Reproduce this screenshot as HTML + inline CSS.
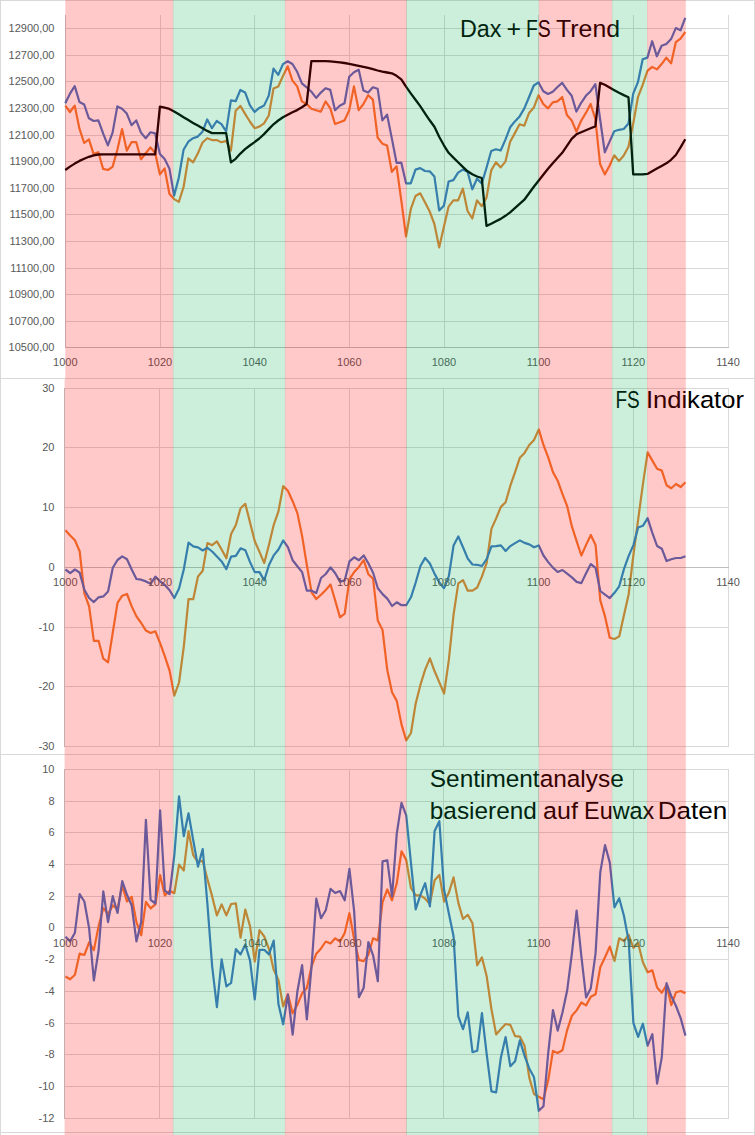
<!DOCTYPE html><html><head><meta charset="utf-8"><style>html,body{margin:0;padding:0;background:#fff;overflow:hidden}svg{display:block}text{font-family:"Liberation Sans",sans-serif}</style></head><body>
<svg width="755" height="1135" viewBox="0 0 755 1135">
<rect x="0" y="0" width="755" height="1135" fill="#fff"/>
<rect x="65" y="28" width="664" height="1" fill="#d9d9d9"/>
<rect x="65" y="55" width="664" height="1" fill="#d9d9d9"/>
<rect x="65" y="81" width="664" height="1" fill="#d9d9d9"/>
<rect x="65" y="108" width="664" height="1" fill="#d9d9d9"/>
<rect x="65" y="135" width="664" height="1" fill="#d9d9d9"/>
<rect x="65" y="161" width="664" height="1" fill="#d9d9d9"/>
<rect x="65" y="188" width="664" height="1" fill="#d9d9d9"/>
<rect x="65" y="214" width="664" height="1" fill="#d9d9d9"/>
<rect x="65" y="241" width="664" height="1" fill="#d9d9d9"/>
<rect x="65" y="268" width="664" height="1" fill="#d9d9d9"/>
<rect x="65" y="294" width="664" height="1" fill="#d9d9d9"/>
<rect x="65" y="321" width="664" height="1" fill="#d9d9d9"/>
<rect x="160" y="15" width="1" height="332" fill="#d9d9d9"/>
<rect x="254" y="15" width="1" height="332" fill="#d9d9d9"/>
<rect x="349" y="15" width="1" height="332" fill="#d9d9d9"/>
<rect x="444" y="15" width="1" height="332" fill="#d9d9d9"/>
<rect x="538" y="15" width="1" height="332" fill="#d9d9d9"/>
<rect x="633" y="15" width="1" height="332" fill="#d9d9d9"/>
<rect x="728" y="15" width="1" height="332" fill="#d9d9d9"/>
<rect x="65" y="15" width="1" height="333" fill="#bfbfbf"/>
<rect x="65" y="347" width="664" height="1" fill="#bfbfbf"/>
<text x="54.5" y="32.1" font-size="11" fill="#595959" text-anchor="end">12900,00</text>
<text x="54.5" y="59.1" font-size="11" fill="#595959" text-anchor="end">12700,00</text>
<text x="54.5" y="85.1" font-size="11" fill="#595959" text-anchor="end">12500,00</text>
<text x="54.5" y="112.1" font-size="11" fill="#595959" text-anchor="end">12300,00</text>
<text x="54.5" y="139.1" font-size="11" fill="#595959" text-anchor="end">12100,00</text>
<text x="54.5" y="165.1" font-size="11" fill="#595959" text-anchor="end">11900,00</text>
<text x="54.5" y="192.1" font-size="11" fill="#595959" text-anchor="end">11700,00</text>
<text x="54.5" y="218.1" font-size="11" fill="#595959" text-anchor="end">11500,00</text>
<text x="54.5" y="245.1" font-size="11" fill="#595959" text-anchor="end">11300,00</text>
<text x="54.5" y="272.1" font-size="11" fill="#595959" text-anchor="end">11100,00</text>
<text x="54.5" y="298.1" font-size="11" fill="#595959" text-anchor="end">10900,00</text>
<text x="54.5" y="325.1" font-size="11" fill="#595959" text-anchor="end">10700,00</text>
<text x="54.5" y="351.1" font-size="11" fill="#595959" text-anchor="end">10500,00</text>
<rect x="64" y="388" width="665" height="1" fill="#d9d9d9"/>
<rect x="64" y="447" width="665" height="1" fill="#d9d9d9"/>
<rect x="64" y="507" width="665" height="1" fill="#d9d9d9"/>
<rect x="64" y="627" width="665" height="1" fill="#d9d9d9"/>
<rect x="64" y="686" width="665" height="1" fill="#d9d9d9"/>
<rect x="64" y="746" width="665" height="1" fill="#d9d9d9"/>
<rect x="159" y="388" width="1" height="358" fill="#d9d9d9"/>
<rect x="254" y="388" width="1" height="358" fill="#d9d9d9"/>
<rect x="349" y="388" width="1" height="358" fill="#d9d9d9"/>
<rect x="443" y="388" width="1" height="358" fill="#d9d9d9"/>
<rect x="538" y="388" width="1" height="358" fill="#d9d9d9"/>
<rect x="633" y="388" width="1" height="358" fill="#d9d9d9"/>
<rect x="728" y="388" width="1" height="358" fill="#d9d9d9"/>
<rect x="64" y="388" width="1" height="359" fill="#bfbfbf"/>
<rect x="64" y="567" width="665" height="1" fill="#bfbfbf"/>
<text x="54.5" y="392.1" font-size="11" fill="#595959" text-anchor="end">30</text>
<text x="54.5" y="451.1" font-size="11" fill="#595959" text-anchor="end">20</text>
<text x="54.5" y="511.1" font-size="11" fill="#595959" text-anchor="end">10</text>
<text x="54.5" y="631.1" font-size="11" fill="#595959" text-anchor="end">-10</text>
<text x="54.5" y="690.1" font-size="11" fill="#595959" text-anchor="end">-20</text>
<text x="54.5" y="750.1" font-size="11" fill="#595959" text-anchor="end">-30</text>
<text x="54.5" y="571.1" font-size="11" fill="#595959" text-anchor="end">0</text>
<rect x="64" y="769" width="665" height="1" fill="#d9d9d9"/>
<rect x="64" y="801" width="665" height="1" fill="#d9d9d9"/>
<rect x="64" y="832" width="665" height="1" fill="#d9d9d9"/>
<rect x="64" y="864" width="665" height="1" fill="#d9d9d9"/>
<rect x="64" y="896" width="665" height="1" fill="#d9d9d9"/>
<rect x="64" y="959" width="665" height="1" fill="#d9d9d9"/>
<rect x="64" y="991" width="665" height="1" fill="#d9d9d9"/>
<rect x="64" y="1023" width="665" height="1" fill="#d9d9d9"/>
<rect x="64" y="1054" width="665" height="1" fill="#d9d9d9"/>
<rect x="64" y="1086" width="665" height="1" fill="#d9d9d9"/>
<rect x="64" y="1118" width="665" height="1" fill="#d9d9d9"/>
<rect x="159" y="769" width="1" height="349" fill="#d9d9d9"/>
<rect x="254" y="769" width="1" height="349" fill="#d9d9d9"/>
<rect x="349" y="769" width="1" height="349" fill="#d9d9d9"/>
<rect x="443" y="769" width="1" height="349" fill="#d9d9d9"/>
<rect x="538" y="769" width="1" height="349" fill="#d9d9d9"/>
<rect x="633" y="769" width="1" height="349" fill="#d9d9d9"/>
<rect x="728" y="769" width="1" height="349" fill="#d9d9d9"/>
<rect x="64" y="769" width="1" height="350" fill="#bfbfbf"/>
<rect x="64" y="927" width="665" height="1" fill="#bfbfbf"/>
<text x="54.5" y="773.1" font-size="11" fill="#595959" text-anchor="end">10</text>
<text x="54.5" y="805.1" font-size="11" fill="#595959" text-anchor="end">8</text>
<text x="54.5" y="836.1" font-size="11" fill="#595959" text-anchor="end">6</text>
<text x="54.5" y="868.1" font-size="11" fill="#595959" text-anchor="end">4</text>
<text x="54.5" y="900.1" font-size="11" fill="#595959" text-anchor="end">2</text>
<text x="54.5" y="963.1" font-size="11" fill="#595959" text-anchor="end">-2</text>
<text x="54.5" y="995.1" font-size="11" fill="#595959" text-anchor="end">-4</text>
<text x="54.5" y="1027.1" font-size="11" fill="#595959" text-anchor="end">-6</text>
<text x="54.5" y="1058.1" font-size="11" fill="#595959" text-anchor="end">-8</text>
<text x="54.5" y="1090.1" font-size="11" fill="#595959" text-anchor="end">-10</text>
<text x="54.5" y="1122.1" font-size="11" fill="#595959" text-anchor="end">-12</text>
<text x="54.5" y="931.1" font-size="11" fill="#595959" text-anchor="end">0</text>
<rect x="0" y="0" width="755" height="1" fill="#d9d9d9"/>
<rect x="0" y="378" width="755" height="1" fill="#d9d9d9"/>
<rect x="0" y="754" width="755" height="1" fill="#d9d9d9"/>
<rect x="0" y="1132" width="755" height="1" fill="#d9d9d9"/>
<rect x="0" y="0" width="1" height="1135" fill="#d9d9d9"/>
<rect x="754" y="0" width="1" height="1135" fill="#d9d9d9"/>
<polyline points="65.25,105.6 69.98,112.0 74.72,105.6 79.45,128.7 84.18,143.0 88.91,139.3 93.65,154.1 98.38,152.2 103.11,168.9 107.85,170.0 112.58,166.8 117.31,150.1 122.05,129.0 126.78,150.6 131.51,142.2 136.25,142.2 140.98,159.3 145.71,153.3 150.44,147.4 155.18,153.0 159.91,174.4 164.64,168.4 169.38,193.8 174.11,199.1 178.84,201.9 183.57,187.0 188.31,158.4 193.04,162.4 197.77,153.6 202.51,142.5 207.24,138.2 211.97,140.1 216.71,140.1 221.44,142.2 226.17,140.9 230.91,150.5 235.64,110.7 240.37,105.9 245.10,113.9 249.84,121.5 254.57,128.2 259.30,126.6 264.04,123.4 268.77,115.5 273.50,88.5 278.24,86.5 282.97,76.0 287.70,66.3 292.43,80.6 297.17,86.4 301.90,101.4 306.63,104.0 311.37,108.8 316.10,110.2 320.83,111.6 325.56,101.4 330.30,108.4 335.03,124.0 339.76,122.2 344.50,120.4 349.23,110.2 353.96,86.4 358.70,110.2 363.43,104.0 368.16,95.2 372.89,99.6 377.63,137.5 382.36,143.7 387.09,145.5 391.83,171.9 396.56,166.3 401.29,200.3 406.03,236.5 410.76,209.2 415.49,196.0 420.22,193.3 424.96,202.2 429.69,211.5 434.42,224.2 439.16,247.4 443.89,226.8 448.62,206.6 453.36,200.4 458.09,200.4 462.82,188.6 467.55,211.0 472.29,218.5 477.02,200.4 481.75,206.2 486.49,197.7 491.22,170.4 495.95,162.2 500.69,167.4 505.42,161.6 510.15,141.8 514.88,133.1 519.62,124.3 524.35,125.7 529.08,112.9 533.82,107.6 538.55,95.2 543.28,104.0 548.02,108.4 552.75,102.3 557.48,101.4 562.21,97.0 566.95,115.1 571.68,120.4 576.41,131.7 581.15,120.8 585.88,112.9 590.61,104.0 595.35,119.0 600.08,164.0 604.81,174.4 609.54,165.8 614.28,155.3 619.01,161.1 623.74,155.5 628.48,146.8 633.21,123.6 637.94,97.2 642.68,84.9 647.41,70.8 652.14,66.9 656.88,69.4 661.61,64.1 666.34,57.6 671.07,63.4 675.81,42.2 680.54,38.7 685.27,32.0" fill="none" stroke="#ed7d31" stroke-width="2.2" stroke-linejoin="round" stroke-linecap="butt"/>
<polyline points="65.25,103.2 69.98,93.7 74.72,86.1 79.45,102.0 84.18,104.5 88.91,118.3 93.65,121.0 98.38,120.4 103.11,133.4 107.85,145.4 112.58,132.6 117.31,106.4 122.05,108.8 126.78,113.6 131.51,125.2 136.25,120.4 140.98,132.6 145.71,138.2 150.44,132.3 155.18,133.4 159.91,154.1 164.64,158.9 169.38,168.4 174.11,195.6 178.84,177.5 183.57,149.7 188.31,141.7 193.04,138.2 197.77,136.6 202.51,131.7 207.24,119.5 211.97,128.2 216.71,121.0 221.44,124.2 226.17,131.4 230.91,100.4 235.64,101.2 240.37,90.0 245.10,92.4 249.84,105.1 254.57,112.0 259.30,107.9 264.04,105.6 268.77,95.6 273.50,68.6 278.24,74.9 282.97,64.1 287.70,61.3 292.43,64.0 297.17,71.8 301.90,83.4 306.63,87.3 311.37,91.7 316.10,97.9 320.83,92.6 325.56,88.2 330.30,89.9 335.03,110.2 339.76,105.8 344.50,103.2 349.23,76.7 353.96,72.3 358.70,69.7 363.43,90.5 368.16,92.6 372.89,87.3 377.63,88.7 382.36,120.4 387.09,114.6 391.83,138.4 396.56,162.8 401.29,162.6 406.03,183.3 410.76,183.3 415.49,169.6 420.22,168.1 424.96,171.0 429.69,171.3 434.42,176.6 439.16,210.4 443.89,205.7 448.62,181.5 453.36,180.1 458.09,172.7 462.82,169.6 467.55,171.7 472.29,189.3 477.02,178.7 481.75,183.6 486.49,167.8 491.22,151.0 495.95,149.3 500.69,150.5 505.42,139.6 510.15,127.3 514.88,121.4 519.62,116.4 524.35,108.4 529.08,97.0 533.82,85.5 538.55,82.4 543.28,91.2 548.02,94.0 552.75,91.7 557.48,87.0 562.21,82.9 566.95,89.9 571.68,95.8 576.41,111.6 581.15,102.8 585.88,95.8 590.61,91.2 595.35,84.1 600.08,119.0 604.81,152.3 609.54,141.6 614.28,131.2 619.01,129.8 623.74,129.0 628.48,123.5 633.21,93.7 637.94,82.2 642.68,59.3 647.41,57.6 652.14,41.2 656.88,56.3 661.61,45.8 666.34,44.0 671.07,39.1 675.81,28.1 680.54,30.3 685.27,17.9" fill="none" stroke="#4472c4" stroke-width="2.2" stroke-linejoin="round" stroke-linecap="butt"/>
<polyline points="65.25,170.0 69.98,166.6 74.72,163.6 79.45,160.9 84.18,158.7 88.91,156.8 93.65,155.3 98.38,154.5 103.11,154.4 107.85,154.4 112.58,154.4 117.31,154.4 122.05,154.4 126.78,154.4 131.51,154.4 136.25,154.4 140.98,154.4 145.71,154.4 150.44,154.4 155.18,154.4 159.91,106.6 164.64,107.6 169.38,108.9 174.11,111.4 178.84,114.3 183.57,117.3 188.31,120.1 193.04,122.9 197.77,125.6 202.51,128.3 207.24,130.9 211.97,133.1 216.71,133.1 221.44,133.1 226.17,133.1 230.91,162.4 235.64,158.8 240.37,153.6 245.10,149.1 249.84,145.5 254.57,142.1 259.30,138.5 264.04,134.1 268.77,129.1 273.50,124.3 278.24,120.5 282.97,117.3 287.70,114.8 292.43,112.3 297.17,110.1 301.90,107.3 306.63,104.0 311.37,61.2 316.10,61.2 320.83,61.2 325.56,61.2 330.30,61.3 335.03,61.8 339.76,62.3 344.50,63.0 349.23,63.8 353.96,64.8 358.70,65.8 363.43,66.8 368.16,67.9 372.89,69.2 377.63,70.5 382.36,71.6 387.09,72.5 391.83,73.3 396.56,75.8 401.29,79.3 406.03,86.7 410.76,93.3 415.49,99.8 420.22,106.1 424.96,113.3 429.69,120.3 434.42,126.8 439.16,136.8 443.89,145.3 448.62,152.8 453.36,157.6 458.09,162.3 462.82,166.8 467.55,171.3 472.29,174.3 477.02,176.5 481.75,178.0 486.49,225.9 491.22,223.8 495.95,221.3 500.69,218.9 505.42,215.8 510.15,212.3 514.88,208.1 519.62,203.8 524.35,199.7 529.08,193.3 533.82,186.8 538.55,180.8 543.28,174.8 548.02,168.8 552.75,163.3 557.48,158.1 562.21,152.8 566.95,145.8 571.68,138.8 576.41,134.3 581.15,132.2 585.88,130.3 590.61,128.3 595.35,126.4 600.08,82.9 604.81,84.8 609.54,87.5 614.28,90.2 619.01,92.8 623.74,95.1 628.48,97.2 633.21,174.4 637.94,174.4 642.68,174.4 647.41,173.9 652.14,171.3 656.88,168.6 661.61,166.0 666.34,163.3 671.07,159.8 675.81,155.0 680.54,147.4 685.27,139.2" fill="none" stroke="#000000" stroke-width="2.3" stroke-linejoin="round" stroke-linecap="butt"/>
<polyline points="65.45,530.3 70.18,535.5 74.92,540.2 79.65,551.2 84.38,593.3 89.12,606.4 93.85,640.9 98.58,640.9 103.31,658.7 108.05,662.3 112.78,632.5 117.51,602.8 122.25,595.7 126.98,594.0 131.71,606.4 136.44,616.4 141.18,623.0 145.91,630.6 150.64,633.0 155.38,631.3 160.11,643.2 164.84,656.3 169.58,670.6 174.31,695.6 179.04,682.5 183.77,646.8 188.51,599.2 193.24,599.2 197.97,576.6 202.71,570.7 207.44,543.1 212.17,545.2 216.91,541.4 221.64,549.5 226.37,558.3 231.11,534.0 235.84,525.0 240.57,508.3 245.30,503.8 250.04,522.6 254.77,541.2 259.50,551.9 264.24,563.1 268.97,544.7 273.70,525.0 278.44,511.4 283.17,486.0 287.90,490.7 292.63,501.2 297.37,513.1 302.10,535.9 306.83,565.0 311.57,592.3 316.30,599.0 321.03,594.7 325.76,589.9 330.50,584.5 335.23,600.6 339.96,617.3 344.70,613.7 349.43,579.2 354.16,572.1 358.90,566.9 363.63,560.2 368.36,574.2 373.09,578.8 377.83,620.8 382.56,630.1 387.29,670.1 392.03,692.3 396.76,700.9 401.49,724.4 406.23,740.4 410.96,733.0 415.69,703.4 420.42,684.9 425.16,669.6 429.89,658.3 434.62,671.3 439.36,682.4 444.09,693.5 448.82,660.2 453.56,614.6 458.29,583.3 463.02,580.1 467.75,590.7 472.49,590.7 477.22,587.5 481.95,576.4 486.69,562.8 491.42,528.9 496.15,518.4 500.89,506.9 505.62,502.2 510.35,485.7 515.09,472.1 519.82,457.8 524.55,452.9 529.28,445.0 534.02,440.0 538.75,429.4 543.48,445.0 548.22,457.3 552.95,472.1 557.68,480.7 562.41,493.8 567.15,506.1 571.88,526.4 576.61,541.2 581.35,555.5 586.08,544.9 590.81,535.0 595.55,544.9 600.28,600.4 605.01,616.4 609.75,637.8 614.48,639.0 619.21,636.4 623.94,615.3 628.68,594.2 633.41,554.8 638.14,519.6 642.88,484.3 647.61,452.3 652.34,460.6 657.08,468.8 661.81,470.6 666.54,485.2 671.27,488.2 676.01,484.0 680.74,487.0 685.47,482.2" fill="none" stroke="#ed7d31" stroke-width="2.2" stroke-linejoin="round" stroke-linecap="butt"/>
<polyline points="65.45,569.5 70.18,573.1 74.92,569.5 79.65,572.6 84.38,589.7 89.12,598.0 93.85,602.1 98.58,597.3 103.31,596.4 108.05,591.6 112.78,567.8 117.51,560.0 122.25,556.4 126.98,559.3 131.71,569.5 136.44,579.0 141.18,579.7 145.91,581.4 150.64,583.8 155.38,576.6 160.11,581.4 164.84,585.0 169.58,590.2 174.31,598.0 179.04,588.5 183.77,569.5 188.51,542.6 193.24,546.4 197.97,547.4 202.71,550.5 207.44,547.8 212.17,551.5 216.91,556.5 221.64,561.4 226.37,569.2 231.11,556.6 235.84,555.9 240.57,548.3 245.30,550.2 250.04,562.1 254.77,572.1 259.50,572.1 264.24,580.4 268.97,565.0 273.70,555.4 278.44,549.5 283.17,540.5 287.90,547.1 292.63,560.2 297.37,566.2 302.10,572.1 306.83,590.7 311.57,590.7 316.30,593.0 321.03,578.0 325.76,574.0 330.50,567.3 335.23,573.3 339.96,581.6 344.70,580.4 349.43,561.4 354.16,557.3 358.90,560.2 363.63,555.4 368.36,563.3 373.09,572.7 377.83,588.2 382.56,594.1 387.29,598.6 392.03,606.0 396.76,602.3 401.49,605.2 406.23,605.2 410.96,597.3 415.69,582.5 420.42,566.0 425.16,557.9 429.89,563.5 434.62,573.9 439.36,582.5 444.09,588.2 448.82,576.4 453.56,545.5 458.29,536.4 463.02,547.3 467.75,558.6 472.49,564.5 477.22,564.8 481.95,566.0 486.69,559.1 491.42,546.3 496.15,546.2 500.89,545.4 505.62,551.0 510.35,546.1 515.09,543.1 519.82,540.4 524.55,542.9 529.28,544.4 534.02,547.3 538.75,545.4 543.48,555.5 548.22,562.1 552.95,567.6 557.68,572.0 562.41,570.0 567.15,573.7 571.88,577.4 576.61,581.9 581.35,583.1 586.08,573.2 590.81,564.1 595.55,567.8 600.28,591.0 605.01,594.7 609.75,598.1 614.48,592.8 619.21,586.3 623.94,569.1 628.68,555.9 633.41,545.1 638.14,527.5 642.88,525.8 647.61,518.2 652.34,532.8 657.08,546.0 661.81,548.7 666.54,561.0 671.27,559.2 676.01,558.0 680.74,558.0 685.47,556.3" fill="none" stroke="#4472c4" stroke-width="2.2" stroke-linejoin="round" stroke-linecap="butt"/>
<polyline points="65.45,976.5 70.18,979.3 74.92,974.8 79.65,953.6 84.38,955.0 89.12,942.4 93.85,950.1 98.58,926.2 103.31,908.0 108.05,914.0 112.78,905.5 117.51,909.0 122.25,885.7 126.98,901.5 131.71,896.8 136.44,922.1 141.18,935.3 145.91,901.9 150.64,908.4 155.38,904.3 160.11,875.1 164.84,895.4 169.58,890.7 174.31,893.2 179.04,864.6 183.77,870.5 188.51,831.1 193.24,855.2 197.97,862.0 202.71,860.9 207.44,879.2 212.17,896.4 216.91,915.4 221.64,904.4 226.37,915.4 231.11,904.0 235.84,903.3 240.57,937.6 245.30,909.5 250.04,926.2 254.77,961.7 259.50,930.1 264.24,936.5 268.97,949.1 273.70,969.7 278.44,980.0 283.17,1006.4 287.90,994.2 292.63,1013.3 297.37,1004.8 302.10,993.3 306.83,988.1 311.57,966.3 316.30,953.7 321.03,948.4 325.76,941.5 330.50,943.4 335.23,938.3 339.96,941.5 344.70,933.1 349.43,913.1 354.16,939.3 358.90,959.9 363.63,961.2 368.36,954.8 373.09,938.3 377.83,940.6 382.56,902.1 387.29,889.5 392.03,900.3 396.76,883.3 401.49,851.3 406.23,859.9 410.96,888.0 415.69,895.4 420.42,895.4 425.16,898.7 429.89,903.9 434.62,880.3 439.36,874.9 444.09,901.6 448.82,892.9 453.56,877.4 458.29,902.6 463.02,919.0 467.75,914.8 472.49,923.3 477.22,965.3 481.95,957.4 486.69,976.3 491.42,1009.0 496.15,1034.4 500.89,1029.1 505.62,1024.0 510.35,1024.9 515.09,1036.1 519.82,1036.6 524.55,1045.8 529.28,1077.6 534.02,1094.0 538.75,1096.8 543.48,1099.3 548.22,1080.3 552.95,1050.9 557.68,1053.0 562.41,1050.3 567.15,1030.1 571.88,1015.8 576.61,1010.4 581.35,1002.5 586.08,1005.4 590.81,996.8 595.55,994.3 600.28,967.2 605.01,957.3 609.75,946.6 614.48,961.0 619.21,938.3 623.94,941.0 628.68,934.9 633.41,948.0 638.14,943.2 642.88,962.2 647.61,972.2 652.34,970.4 657.08,987.5 661.81,992.8 666.54,984.9 671.27,1005.1 676.01,992.3 680.74,991.0 685.47,993.3" fill="none" stroke="#ed7d31" stroke-width="2.2" stroke-linejoin="round" stroke-linecap="butt"/>
<polyline points="65.45,936.7 70.18,941.4 74.92,932.7 79.65,894.2 84.38,901.5 89.12,928.2 93.85,980.5 98.58,950.5 103.31,891.3 108.05,922.1 112.78,896.2 117.51,913.0 122.25,881.2 126.98,894.8 131.71,905.5 136.44,941.4 141.18,922.1 145.91,819.8 150.64,899.9 155.38,903.5 160.11,810.3 164.84,890.7 169.58,894.2 174.31,855.3 179.04,796.3 183.77,836.2 188.51,813.3 193.24,840.3 197.97,866.6 202.71,849.0 207.44,904.4 212.17,966.3 216.91,1007.1 221.64,959.4 226.37,986.4 231.11,982.8 235.84,949.1 240.57,954.4 245.30,944.5 250.04,960.6 254.77,999.5 259.50,949.8 264.24,949.8 268.97,954.4 273.70,940.6 278.44,1004.1 283.17,1024.3 287.90,994.6 292.63,1034.6 297.37,991.5 302.10,965.1 306.83,1019.4 311.57,966.3 316.30,898.7 321.03,918.2 325.76,910.2 330.50,888.9 335.23,893.0 339.96,891.1 344.70,900.3 349.43,868.9 354.16,911.3 358.90,997.2 363.63,988.1 368.36,942.2 373.09,955.3 377.83,981.2 382.56,861.4 387.29,860.2 392.03,896.3 396.76,833.6 401.49,802.8 406.23,815.3 410.96,862.8 415.69,909.4 420.42,894.8 425.16,883.2 429.89,906.4 434.62,830.9 439.36,821.2 444.09,890.0 448.82,913.2 453.56,936.3 458.29,1016.3 463.02,1029.1 467.75,1012.3 472.49,1052.2 477.22,1050.8 481.95,1013.2 486.69,1054.2 491.42,1091.3 496.15,1092.3 500.89,1057.5 505.62,1037.1 510.35,1066.2 515.09,1061.2 519.82,1040.4 524.55,1055.8 529.28,1068.4 534.02,1077.3 538.75,1110.8 543.48,1106.3 548.22,1052.8 552.95,1010.1 557.68,1030.6 562.41,1012.8 567.15,990.6 571.88,953.6 576.61,910.5 581.35,956.1 586.08,997.5 590.81,988.2 595.55,953.6 600.28,872.2 605.01,845.1 609.75,862.4 614.48,907.3 619.21,898.3 623.94,915.8 628.68,941.1 633.41,1023.1 638.14,1036.9 642.88,1023.7 647.61,1045.7 652.34,1034.2 657.08,1083.6 661.81,1057.1 666.54,983.1 671.27,996.3 676.01,1006.0 680.74,1018.4 685.47,1035.6" fill="none" stroke="#4472c4" stroke-width="2.2" stroke-linejoin="round" stroke-linecap="butt"/>
<text x="65.3" y="365.8" font-size="11" fill="#595959" text-anchor="middle">1000</text>
<text x="160.0" y="365.8" font-size="11" fill="#595959" text-anchor="middle">1020</text>
<text x="254.7" y="365.8" font-size="11" fill="#595959" text-anchor="middle">1040</text>
<text x="349.3" y="365.8" font-size="11" fill="#595959" text-anchor="middle">1060</text>
<text x="444.0" y="365.8" font-size="11" fill="#595959" text-anchor="middle">1080</text>
<text x="538.6" y="365.8" font-size="11" fill="#595959" text-anchor="middle">1100</text>
<text x="633.3" y="365.8" font-size="11" fill="#595959" text-anchor="middle">1120</text>
<text x="728.0" y="365.8" font-size="11" fill="#595959" text-anchor="middle">1140</text>
<text x="65.3" y="585.8" font-size="11" fill="#595959" text-anchor="middle">1000</text>
<text x="160.0" y="585.8" font-size="11" fill="#595959" text-anchor="middle">1020</text>
<text x="254.7" y="585.8" font-size="11" fill="#595959" text-anchor="middle">1040</text>
<text x="349.3" y="585.8" font-size="11" fill="#595959" text-anchor="middle">1060</text>
<text x="444.0" y="585.8" font-size="11" fill="#595959" text-anchor="middle">1080</text>
<text x="538.6" y="585.8" font-size="11" fill="#595959" text-anchor="middle">1100</text>
<text x="633.3" y="585.8" font-size="11" fill="#595959" text-anchor="middle">1120</text>
<text x="728.0" y="585.8" font-size="11" fill="#595959" text-anchor="middle">1140</text>
<text x="65.3" y="946.6" font-size="11" fill="#595959" text-anchor="middle">1000</text>
<text x="160.0" y="946.6" font-size="11" fill="#595959" text-anchor="middle">1020</text>
<text x="254.7" y="946.6" font-size="11" fill="#595959" text-anchor="middle">1040</text>
<text x="349.3" y="946.6" font-size="11" fill="#595959" text-anchor="middle">1060</text>
<text x="444.0" y="946.6" font-size="11" fill="#595959" text-anchor="middle">1080</text>
<text x="538.6" y="946.6" font-size="11" fill="#595959" text-anchor="middle">1100</text>
<text x="633.3" y="946.6" font-size="11" fill="#595959" text-anchor="middle">1120</text>
<text x="728.0" y="946.6" font-size="11" fill="#595959" text-anchor="middle">1140</text>
<text x="460.00" y="36.80" font-size="24.5" fill="#000" textLength="41.45" lengthAdjust="spacingAndGlyphs">Dax</text>
<text x="506.48" y="36.80" font-size="24.5" fill="#000" textLength="14.55" lengthAdjust="spacingAndGlyphs">+</text>
<text x="525.91" y="36.80" font-size="24.5" fill="#000" textLength="24.83" lengthAdjust="spacingAndGlyphs">FS</text>
<text x="556.09" y="36.80" font-size="24.5" fill="#000" textLength="63.92" lengthAdjust="spacingAndGlyphs">Trend</text>
<text x="615.45" y="407.60" font-size="24.5" fill="#000" textLength="24.27" lengthAdjust="spacingAndGlyphs">FS</text>
<text x="645.91" y="407.60" font-size="24.5" fill="#000" textLength="98.05" lengthAdjust="spacingAndGlyphs">Indikator</text>
<text x="429.80" y="786.50" font-size="24.5" fill="#000" textLength="193.96" lengthAdjust="spacingAndGlyphs">Sentimentanalyse</text>
<text x="429.81" y="819.30" font-size="24.5" fill="#000" textLength="106.99" lengthAdjust="spacingAndGlyphs">basierend</text>
<text x="543.08" y="819.30" font-size="24.5" fill="#000" textLength="34.79" lengthAdjust="spacingAndGlyphs">auf</text>
<text x="584.09" y="819.30" font-size="24.5" fill="#000" textLength="70.23" lengthAdjust="spacingAndGlyphs">Euwax</text>
<text x="657.67" y="819.30" font-size="24.5" fill="#000" textLength="69.71" lengthAdjust="spacingAndGlyphs">Daten</text>
<rect x="65.3" y="0" width="108.1" height="379" fill="#ff0000" fill-opacity="0.21"/>
<rect x="172.9" y="0" width="112.4" height="379" fill="#00b050" fill-opacity="0.2"/>
<rect x="284.9" y="0" width="122.0" height="379" fill="#ff0000" fill-opacity="0.21"/>
<rect x="406.0" y="0" width="133.1" height="379" fill="#00b050" fill-opacity="0.2"/>
<rect x="538.7" y="0" width="73.6" height="379" fill="#ff0000" fill-opacity="0.21"/>
<rect x="611.8" y="0" width="35.6" height="379" fill="#00b050" fill-opacity="0.2"/>
<rect x="647.0" y="0" width="38.8" height="379" fill="#ff0000" fill-opacity="0.21"/>
<rect x="64.6" y="379" width="108.8" height="376" fill="#ff0000" fill-opacity="0.21"/>
<rect x="172.9" y="379" width="112.4" height="376" fill="#00b050" fill-opacity="0.2"/>
<rect x="284.9" y="379" width="122.0" height="376" fill="#ff0000" fill-opacity="0.21"/>
<rect x="406.0" y="379" width="133.1" height="376" fill="#00b050" fill-opacity="0.2"/>
<rect x="538.7" y="379" width="73.6" height="376" fill="#ff0000" fill-opacity="0.21"/>
<rect x="611.8" y="379" width="35.6" height="376" fill="#00b050" fill-opacity="0.2"/>
<rect x="647.0" y="379" width="38.8" height="376" fill="#ff0000" fill-opacity="0.21"/>
<rect x="64.6" y="755" width="108.8" height="380" fill="#ff0000" fill-opacity="0.21"/>
<rect x="172.9" y="755" width="112.4" height="380" fill="#00b050" fill-opacity="0.2"/>
<rect x="284.9" y="755" width="122.0" height="380" fill="#ff0000" fill-opacity="0.21"/>
<rect x="406.0" y="755" width="133.1" height="380" fill="#00b050" fill-opacity="0.2"/>
<rect x="538.7" y="755" width="73.6" height="380" fill="#ff0000" fill-opacity="0.21"/>
<rect x="611.8" y="755" width="35.6" height="380" fill="#00b050" fill-opacity="0.2"/>
<rect x="647.0" y="755" width="38.8" height="380" fill="#ff0000" fill-opacity="0.21"/>
</svg></body></html>
